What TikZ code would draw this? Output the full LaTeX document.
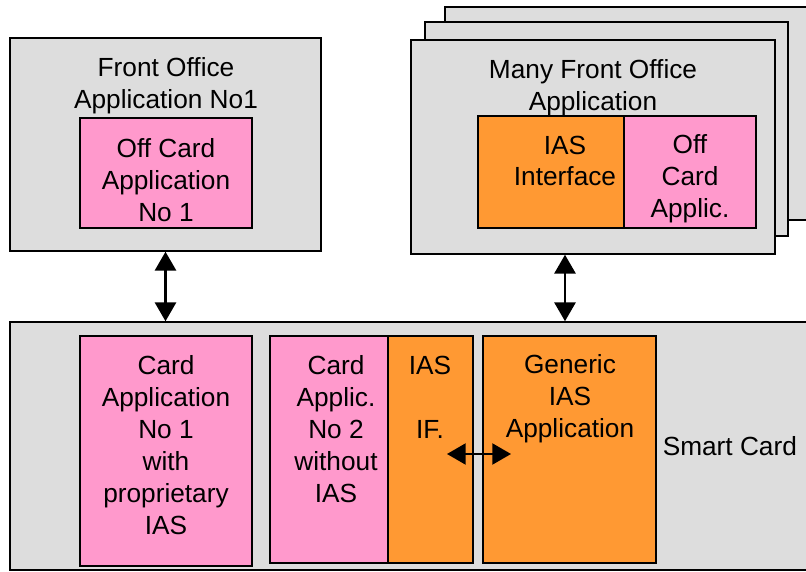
\documentclass[tikz,border=0pt]{standalone}
\usepackage{fontspec}
\setmainfont{Liberation Sans}
\usetikzlibrary{arrows.meta,positioning,fit}
\definecolor{boxgray}{HTML}{DDDDDD}
\definecolor{cardpink}{HTML}{FF99CC}
\definecolor{iasorange}{HTML}{FF9933}
\begin{document}
\begin{tikzpicture}[x=0.03cm, y=-0.03cm, line width=1.3pt,
    box/.style={draw, fill=boxgray, inner sep=0pt},
    pinkbox/.style={draw, fill=cardpink, inner sep=0pt},
    orangebox/.style={draw, fill=iasorange, inner sep=0pt},
    txt/.style={align=center, inner sep=0pt, font=\fontsize{22.4}{27.2}\selectfont},
    link/.style={{Triangle[width=18pt,length=16pt]}-{Triangle[width=18pt,length=16pt]}, line width=1.8pt}]
    \useasboundingbox (0,0) rectangle (806,572);

    % front office
    \node[box, fit={(10,38) (321,251)}] (fo) {};
    \node[txt] (folbl) at (166,86) {Front Office\\Application No1};
    \node[pinkbox, fit={(80,118) (252,228)}] (offapp) {};
    \node[txt] (offapplbl) at (166,180) {Off Card\\Application\\No 1};

    % many front office (stack)
    \node[box, fit={(445,7) (830,220)}] (back) {};
    \node[box, fit={(425,22) (788,236)}] (mid) {};
    \node[box, fit={(411,40) (775,254)}] (many) {};
    \node[txt] (manylbl) at (593,88) {Many Front Office\\Application};
    \node[orangebox, fit={(478,116) (624,228)}] (iasint) {};
    \node[txt] (iasintlbl) at (565,161) {IAS\\Interface};
    \node[pinkbox, fit={(624,116) (756,228)}] (offapl) {};
    \node[txt] (offapllbl) at (690,179) {Off\\Card\\Applic.};

    % smart card
    \node[box, fit={(10,322) (830,570)}] (card) {};
    \node[pinkbox, fit={(80,336) (252,566)}] (cardone) {};
    \node[txt] (cardonelbl) at (166,445) {Card\\Application\\No 1\\with\\proprietary\\IAS};
    \node[pinkbox, fit={(270,336) (403,563)}] (cardtwo) {};
    \node[txt] (cardtwolbl) at (336,429) {Card\\Applic.\\No 2\\without\\IAS};
    \node[orangebox, fit={(388,336) (473,563)}] (iasif) {};
    \node[txt] (iasiflbl) at (430,397) {IAS\\\strut\\IF.};
    \node[orangebox, fit={(483,336) (656,563)}] (generic) {};
    \node[txt] (genericlbl) at (570,399) {Generic\\IAS\\Application};
    \node[txt, anchor=west] (cardlbl) at (662,446) {Smart Card};

    \coordinate (ifl) at (447,454);
    \coordinate (ifr) at (511,454);

    \draw[link] (fo.south) -- (fo.south |- card.north);
    \draw[link] (many.south -| iasintlbl) -- (card.north -| iasintlbl);
    \draw[link] (ifl) -- (ifr);
\end{tikzpicture}
\end{document}
